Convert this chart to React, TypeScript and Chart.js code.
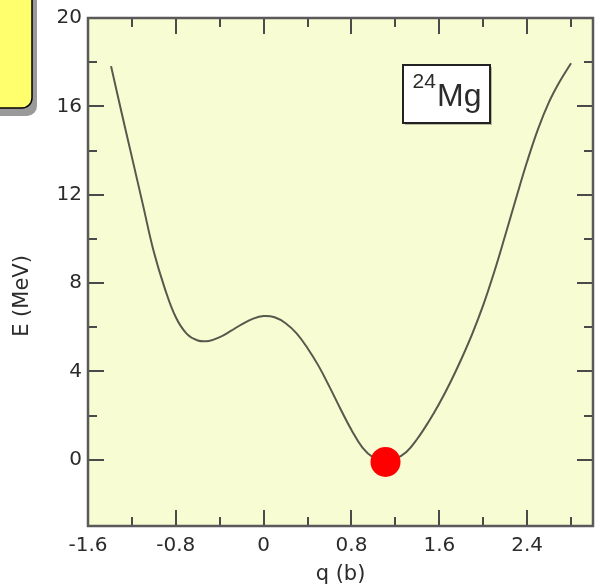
import React, { useEffect, useRef } from 'react';
import { Chart, registerables } from 'chart.js';

Chart.register(...registerables);

// ---- data ----
const Q_VALUES = [
  -1.39, -1.3, -1.2, -1.1, -1.0, -0.9, -0.8, -0.7, -0.6, -0.5, -0.4, -0.3, -0.2, -0.1,
  0.0, 0.1, 0.2, 0.3, 0.4, 0.5, 0.6, 0.7, 0.8, 0.9, 1.0, 1.1, 1.2, 1.3, 1.4, 1.5,
  1.6, 1.7, 1.8, 1.9, 2.0, 2.1, 2.2, 2.3, 2.4, 2.5, 2.6, 2.7, 2.8,
];
const E_VALUES = [
  17.82, 15.85, 13.7, 11.55, 9.4, 7.75, 6.45, 5.7, 5.4, 5.38, 5.55, 5.83, 6.13, 6.38,
  6.51, 6.45, 6.18, 5.72, 5.05, 4.25, 3.3, 2.3, 1.35, 0.55, 0.1, -0.02, 0.05, 0.35, 0.95, 1.7,
  2.55, 3.5, 4.55, 5.7, 7.0, 8.5, 10.15, 11.85, 13.5, 14.98, 16.2, 17.15, 17.95,
];
const GROUND_STATE_Q = [1.11];
const GROUND_STATE_E = [-0.1];

const X_MIN = -1.6;
const X_MAX = 3.0;
const X_MINOR_STEP = 0.4;
const X_LABEL_STEP = 0.8;
const Y_MIN = -3;
const Y_MAX = 20;
const Y_MINOR_STEP = 2;
const Y_LABEL_STEP = 4;

const X_TITLE = 'q (b)';
const Y_TITLE = 'E (MeV)';
const NUCLEUS_MASS = '24';
const NUCLEUS_SYMBOL = 'Mg';
const NUCLEUS_LABEL_Q = 1.27;
const NUCLEUS_LABEL_E = 17.85;

// ---- styles ----
const PLOT_BG = '#F7FCD3';
const TEXT_COLOR = '#2b2b2b';
const AXIS_COLOR = '#4a4a4a';
const LINE_COLOR = '#555a4c';
const DOT_COLOR = '#FF0000';
const CALLOUT_FILL = '#FFFF6E';
const TICK_FONT = '"DejaVu Sans", sans-serif';
const LABEL_FONT = '"Liberation Sans", Arial, sans-serif';

const isMultiple = (v: number, step: number) => {
  const r = v / step;
  return Math.abs(r - Math.round(r)) < 1e-6;
};

const fmt = (v: number) => (Math.abs(v) < 1e-9 ? '0' : Number.isInteger(v) ? String(v) : v.toFixed(1));

const framePlugin = {
  id: 'frame',
  beforeDraw(chart: any) {
    const { ctx, chartArea: a } = chart;
    ctx.save();
    ctx.fillStyle = PLOT_BG;
    ctx.fillRect(a.left, a.top, a.right - a.left, a.bottom - a.top);
    ctx.restore();
  },
  afterDraw(chart: any) {
    const { ctx, chartArea: a, scales } = chart;
    const xs = scales.x;
    const ys = scales.y;
    ctx.save();

    // inward ticks on all four sides
    ctx.strokeStyle = AXIS_COLOR;
    ctx.lineWidth = 2;
    ctx.lineCap = 'butt';
    for (const t of xs.ticks) {
      const v = t.value;
      if (v <= X_MIN + 1e-9 || v >= X_MAX - 1e-9) continue;
      const len = isMultiple(v, X_LABEL_STEP) ? 16 : 9;
      const px = Math.round(xs.getPixelForValue(v));
      ctx.beginPath();
      ctx.moveTo(px, a.bottom);
      ctx.lineTo(px, a.bottom - len);
      ctx.moveTo(px, a.top);
      ctx.lineTo(px, a.top + len);
      ctx.stroke();
    }
    for (const t of ys.ticks) {
      const v = t.value;
      if (v <= Y_MIN + 1e-9 || v >= Y_MAX - 1e-9) continue;
      const len = isMultiple(v, Y_LABEL_STEP) ? 16 : 9;
      const py = Math.round(ys.getPixelForValue(v));
      ctx.beginPath();
      ctx.moveTo(a.left, py);
      ctx.lineTo(a.left + len, py);
      ctx.moveTo(a.right, py);
      ctx.lineTo(a.right - len, py);
      ctx.stroke();
    }

    // frame
    ctx.strokeStyle = '#5a5a5a';
    ctx.lineWidth = 2.5;
    ctx.strokeRect(a.left, a.top, a.right - a.left, a.bottom - a.top);

    // yellow callout box (clipped at the corner)
    ctx.fillStyle = '#9a9a9a';
    ctx.beginPath();
    ctx.roundRect(-15, -13, 52, 129, 10);
    ctx.fill();
    ctx.fillStyle = CALLOUT_FILL;
    ctx.strokeStyle = '#000';
    ctx.lineWidth = 1.5;
    ctx.beginPath();
    ctx.roundRect(-20, -20, 52, 128, 10);
    ctx.fill();
    ctx.stroke();

    // nucleus label box
    const bx = Math.round(xs.getPixelForValue(NUCLEUS_LABEL_Q));
    const by = Math.round(ys.getPixelForValue(NUCLEUS_LABEL_E));
    const bw = 87;
    const bh = 58;
    ctx.fillStyle = 'rgba(0,0,0,0.25)';
    ctx.fillRect(bx + 2, by + 2, bw, bh);
    ctx.fillStyle = '#fff';
    ctx.fillRect(bx, by, bw, bh);
    ctx.strokeStyle = '#222';
    ctx.lineWidth = 2;
    ctx.strokeRect(bx, by, bw, bh);
    ctx.fillStyle = TEXT_COLOR;
    ctx.textAlign = 'left';
    ctx.textBaseline = 'alphabetic';
    ctx.font = `21px ${LABEL_FONT}`;
    ctx.fillText(NUCLEUS_MASS, bx + 9.5, by + 22.5);
    ctx.font = `32px ${LABEL_FONT}`;
    ctx.fillText(NUCLEUS_SYMBOL, bx + 34, by + 41);

    // y axis title
    ctx.translate(23, 296);
    ctx.rotate(-Math.PI / 2);
    ctx.textAlign = 'center';
    ctx.textBaseline = 'middle';
    ctx.font = `21px ${TICK_FONT}`;
    ctx.fillStyle = TEXT_COLOR;
    ctx.fillText(Y_TITLE, 0, 0);

    ctx.restore();
  },
};

export default function App() {
  const canvasRef = useRef<HTMLCanvasElement | null>(null);

  useEffect(() => {
    const canvas = canvasRef.current;
    if (!canvas) return;
    const curve = Q_VALUES.map((q, i) => ({ x: q, y: E_VALUES[i] }));
    const ground = GROUND_STATE_Q.map((q, i) => ({ x: q, y: GROUND_STATE_E[i] }));

    const chart = new Chart(canvas, {
      type: 'line',
      data: {
        datasets: [
          {
            type: 'scatter',
            data: ground,
            pointRadius: 15,
            pointHoverRadius: 15,
            pointBackgroundColor: DOT_COLOR,
            pointBorderWidth: 0,
            borderWidth: 0,
            showLine: false,
          } as any,
          {
            type: 'line',
            data: curve,
            borderColor: LINE_COLOR,
            borderWidth: 2,
            pointRadius: 0,
            tension: 0.4,
            fill: false,
          } as any,
        ],
      },
      options: {
        animation: false,
        responsive: false,
        events: [],
        layout: { padding: { top: 16, right: 8, left: 0, bottom: 0 } },
        plugins: {
          legend: { display: false },
          tooltip: { enabled: false },
        },
        scales: {
          x: {
            type: 'linear',
            min: X_MIN,
            max: X_MAX,
            grid: { display: false, drawTicks: false },
            border: { display: false },
            ticks: {
              stepSize: X_MINOR_STEP,
              autoSkip: false,
              maxRotation: 0,
              padding: 8,
              color: TEXT_COLOR,
              font: { family: TICK_FONT, size: 20 },
              callback: (v: any) => {
                const n = Number(v);
                if (n >= X_MAX - 1e-9) return '';
                return isMultiple(n, X_LABEL_STEP) ? fmt(n) : '';
              },
            },
            title: {
              display: true,
              text: X_TITLE,
              color: TEXT_COLOR,
              font: { family: TICK_FONT, size: 21, lineHeight: 1 },
              padding: 0,
            },
            afterFit: (s: any) => {
              s.height = 59;
            },
          },
          y: {
            type: 'linear',
            min: Y_MIN,
            max: Y_MAX,
            grid: { display: false, drawTicks: false },
            border: { display: false },
            ticks: {
              stepSize: Y_MINOR_STEP,
              autoSkip: false,
              padding: 6,
              color: TEXT_COLOR,
              font: { family: TICK_FONT, size: 20 },
              callback: (v: any) => {
                const n = Number(v);
                return n >= 0 && isMultiple(n, Y_LABEL_STEP) ? fmt(n) : '';
              },
            },
            afterFit: (s: any) => {
              s.width = 88;
            },
          },
        },
      },
      plugins: [framePlugin],
    });

    return () => chart.destroy();
  }, []);

  return (
    <div style={{ position: 'absolute', left: 0, top: 0, width: 608, height: 585, background: '#fff' }}>
      <canvas ref={canvasRef} width={608} height={585} style={{ display: 'block' }} />
    </div>
  );
}
